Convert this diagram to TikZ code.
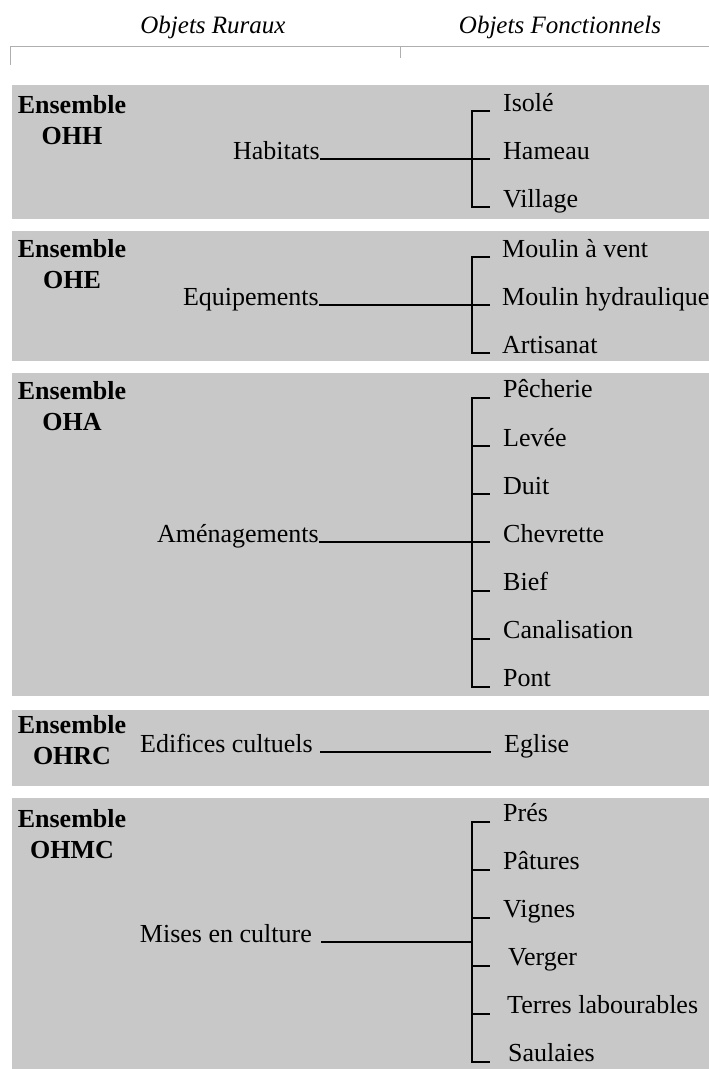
\documentclass[tikz,border=0pt]{standalone}
\usepackage{fontspec}
\setmainfont{Liberation Serif}
\definecolor{bandgray}{RGB}{200,200,200}
\definecolor{rulegray}{RGB}{175,175,175}
\begin{document}
\fontsize{26}{31}\selectfont
\begin{tikzpicture}[x=1pt, y=-1pt, every node/.style={inner sep=0pt},
  band/.style={fill=bandgray},
  hdr/.style={anchor=base, font=\fontsize{25}{30}\selectfont\itshape},
  ens/.style={anchor=base, font=\bfseries},
  rural/.style={anchor=base east},
  func/.style={anchor=base west},
  link/.style={line width=1.9pt},
  rule/.style={draw=rulegray, line width=1pt}]
\useasboundingbox (0,0) rectangle (709,1069);
\node[hdr] (rur) at (213,33) {Objets Ruraux};
\node[hdr] (fon) at (560,33) {Objets Fonctionnels};
\draw[rule] (10,65) -- (10,46) -- (709,46);
\draw[rule] (400,46) -- (400,58);
\foreach \top/\bot in {85/219, 231/361, 373/696, 710/786, 798/1069}
  \fill[band] (12,\top) rectangle (709,\bot);
\foreach \code/\y in {OHH/113, OHE/257, OHA/399, OHRC/733, OHMC/827} {
  \node[ens] (ens-\code) at (72,\y) {Ensemble};
  \node[ens] (code-\code) at (72,\y+31) {\code};
}
% Habitats
\node[rural] (hab) at (320,159) {Habitats};
\coordinate (k1) at (472,159);
\foreach \txt [count=\i] in {Isolé, Hameau, Village}
  \node[func] (h\i) at (503,63+48*\i) {\txt};
\draw[link] (hab.base east) -- (k1);
\draw[link] (k1 |- h1.base) ++(18,0) -- (k1 |- h1.base) -- (k1 |- h3.base) -- ++(18,0);
\draw[link] (k1) -- ++(18,0);
% Equipements
\node[rural] (equ) at (319,305) {Equipements};
\coordinate (k2) at (472,305);
\foreach \txt [count=\i] in {Moulin à vent, Moulin hydraulique, Artisanat}
  \node[func] (q\i) at (502,209+48*\i) {\txt};
\draw[link] (equ.base east) -- (k2);
\draw[link] (k2 |- q1.base) ++(18,0) -- (k2 |- q1.base) -- (k2 |- q3.base) -- ++(18,0);
\draw[link] (k2) -- ++(18,0);
% Amenagements
\node[rural] (ame) at (319,542.4) {Aménagements};
\coordinate (k3) at (472,542.4);
\foreach \txt [count=\i] in {Pêcherie, Levée, Duit, Chevrette, Bief, Canalisation, Pont}
  \node[func] (a\i) at (503,349.8+48.15*\i) {\txt};
\draw[link] (ame.base east) -- (k3);
\draw[link] (k3 |- a1.base) ++(18,0) -- (k3 |- a1.base) -- (k3 |- a7.base) -- ++(18,0);
\foreach \i in {2,...,6}
  \draw[link] (k3 |- a\i.base) -- ++(18,0);
% Edifices cultuels
\node[rural] (edi) at (313,752) {Edifices cultuels};
\node[func] (egl) at (504,752) {Eglise};
\draw[link] ([xshift=7pt]edi.base east) -- ([xshift=-13pt]egl.base west);
% Mises en culture
\node[rural] (mis) at (312,942) {Mises en culture};
\coordinate (k5) at (472,942);
\foreach \txt/\dx [count=\i] in {Prés/0, Pâtures/0, Vignes/0, Verger/5, Terres labourables/4, Saulaies/5}
  \node[func] (m\i) at (503+\dx,773.8+48*\i) {\txt};
\draw[link] ([xshift=9pt]mis.base east) -- (k5);
\draw[link] (k5 |- m1.base) ++(18,0) -- (k5 |- m1.base) -- (k5 |- m6.base) -- ++(18,0);
\foreach \i in {2,...,5}
  \draw[link] (k5 |- m\i.base) -- ++(18,0);
\end{tikzpicture}
\end{document}
